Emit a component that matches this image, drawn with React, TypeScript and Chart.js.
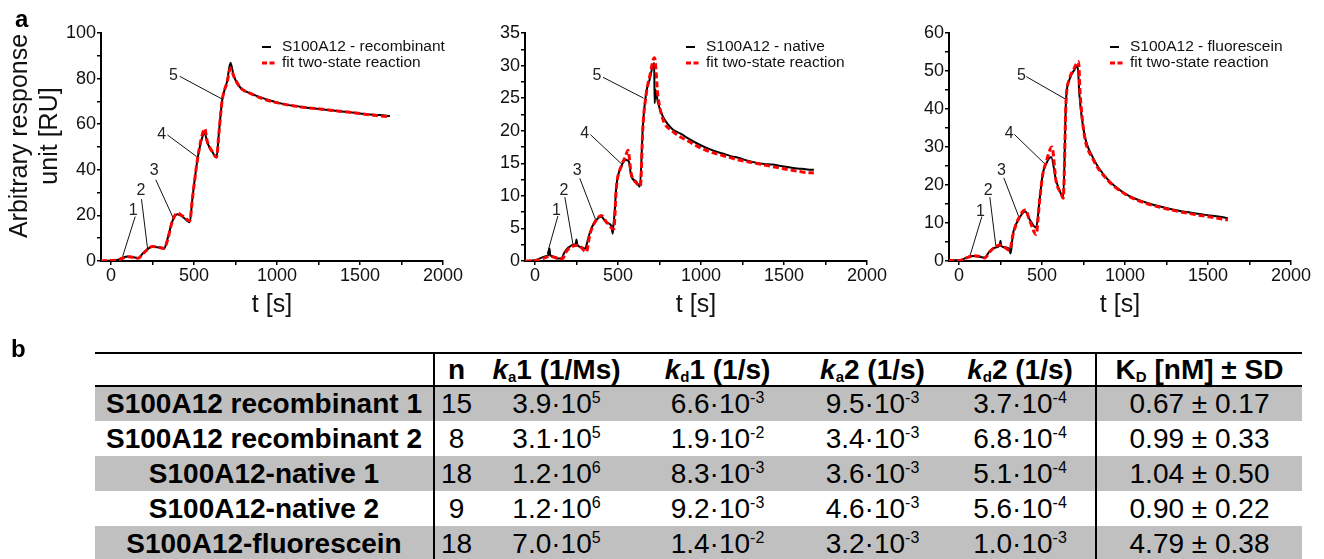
import React, { useEffect, useRef } from 'react';
import { Chart, registerables } from 'chart.js';

Chart.register(...registerables);

const FONT = '"Liberation Sans", Arial, Helvetica, sans-serif';
const RED = '#ff0000';

// ---------- shared axis ticks ----------
const timeTicks = [0, 250, 500, 750, 1000, 1250, 1500, 1750, 2000];
const timeLabels = ['0', '', '500', '', '1000', '', '1500', '', '2000'];

// ---------- Panel a: recombinant ----------
const tRecomb = [-60, 0, 40, 70, 100, 130, 165, 190, 220, 250, 280, 320, 340, 370, 400, 430, 475, 490, 520, 545, 565, 580, 610, 636, 650, 670, 700, 720, 740, 780, 840, 940, 1040, 1140, 1240, 1340, 1440, 1540, 1620, 1680];
const recombMeasured = [0, 0.2, 0.5, 1.4, 2.0, 1.8, 1.3, 3.2, 5.2, 6.2, 6.0, 5.4, 9.5, 17.5, 20.5, 19.5, 17.0, 27, 44, 53, 56, 52, 48, 45.5, 56, 70.5, 79, 87, 81, 76, 73.5, 70.8, 68.8, 67.7, 66.8, 66.0, 65.2, 64.4, 64.0, 63.6];
const recombFit = [0, 0.2, 0.4, 1.2, 1.9, 1.6, 1.2, 3.0, 5.0, 6.4, 6.1, 5.6, 9.0, 17.5, 21.0, 19.8, 17.6, 27, 44, 54, 58, 52.5, 48, 45.5, 56, 70.5, 78.5, 84.5, 81, 76, 73.5, 70.5, 68.8, 67.6, 66.8, 66.0, 65.2, 64.3, 63.6, 63.2];

// ---------- Panel a: native ----------
const tNativeMeasured = [-60, 0, 30, 60, 80, 88, 92, 100, 130, 160, 175, 190, 210, 230, 245, 250, 255, 280, 305, 310, 330, 360, 400, 430, 460, 468, 472, 480, 490, 520, 550, 565, 580, 610, 632, 650, 670, 690, 718, 721, 726, 740, 770, 800, 830, 880, 930, 980, 1030, 1080, 1130, 1180, 1230, 1280, 1330, 1380, 1430, 1480, 1530, 1580, 1630, 1660, 1680];
const nativeMeasured = [0, 0.1, 0.4, 0.7, 0.9, 1.9, 0.8, 0.8, 0.4, 0.4, 1.2, 1.8, 2.2, 2.5, 2.6, 3.3, 2.5, 2.1, 1.9, 2.4, 4.3, 6.0, 6.8, 5.9, 5.4, 4.2, 5.3, 7.5, 11.4, 14.5, 15.5, 15.3, 13.0, 12.2, 11.4, 20.7, 25.8, 27.8, 30.4, 24.2, 26.3, 24.4, 22.2, 21.0, 20.2, 19.5, 18.7, 18.0, 17.4, 16.9, 16.5, 16.1, 15.8, 15.4, 15.1, 14.9, 14.8, 14.6, 14.4, 14.2, 14.1, 14.0, 14.0];
const tNativeFit = [-60, 0, 40, 90, 130, 165, 190, 230, 260, 310, 330, 360, 400, 430, 475, 490, 520, 545, 560, 580, 610, 635, 650, 670, 690, 720, 740, 770, 830, 930, 1030, 1130, 1230, 1330, 1430, 1530, 1630, 1680];
const nativeFit = [0, 0.05, 0.3, 0.7, 0.5, 0.35, 1.5, 2.3, 2.4, 1.4, 4.0, 5.9, 7.0, 6.0, 4.9, 11.2, 14.6, 16.0, 17.0, 13.4, 12.0, 11.5, 20.5, 25.6, 28.2, 31.2, 25.5, 21.8, 19.9, 18.3, 17.0, 16.2, 15.5, 15.0, 14.5, 14.0, 13.6, 13.5];

// ---------- Panel a: fluorescein ----------
const tFluoMeasured = [-65, 5, 45, 85, 125, 155, 185, 215, 245, 250, 255, 275, 305, 310, 315, 325, 355, 400, 425, 465, 485, 505, 525, 555, 585, 615, 628, 645, 665, 695, 715, 725, 755, 805, 885, 1005, 1125, 1225, 1325, 1425, 1525, 1605, 1620];
const fluoMeasured = [0.2, 0.2, 0.9, 1.3, 1.1, 0.9, 2.6, 3.5, 4.1, 5.3, 4.0, 3.6, 3.1, 2.0, 3.0, 7.0, 10.6, 13.0, 11.0, 8.8, 15.9, 23.0, 25.6, 27.4, 21.2, 17.6, 16.6, 42.4, 47.7, 50.3, 51.4, 44.0, 33.5, 27.4, 22.0, 17.6, 15.4, 14.2, 13.2, 12.5, 11.9, 11.4, 11.2];
const tFluoFit = [-65, 5, 45, 85, 125, 155, 185, 215, 245, 275, 305, 325, 355, 400, 425, 465, 485, 505, 525, 560, 585, 615, 628, 645, 665, 695, 720, 730, 755, 805, 885, 1005, 1125, 1225, 1325, 1425, 1525, 1620];
const fluoFit = [0.2, 0.1, 0.8, 1.4, 1.2, 0.8, 2.4, 3.6, 4.2, 3.6, 2.8, 6.8, 10.8, 13.4, 10.8, 7.0, 15.5, 22.8, 26.0, 30.0, 21.0, 17.8, 16.5, 42.0, 47.8, 50.8, 52.5, 44.0, 33.2, 27.0, 21.8, 17.5, 15.2, 14.0, 13.0, 12.2, 11.5, 10.8];

// ---------- injection annotations (data coordinates) ----------
const injectionLabels = ['1', '2', '3', '4', '5'];
const recombLabelT = [134, 180, 260, 306, 376];
const recombLabelV = [22.1, 30.9, 39.7, 55.6, 81.3];
const recombFromT = [146, 184, 270, 340, 414];
const recombFromV = [19.5, 27.1, 35.6, 55.3, 81];
const recombToT = [70, 220, 376, 516, 670];
const recombToV = [1.9, 5.6, 18.7, 45.8, 71];

const nativeLabelT = [130, 174, 254, 300, 374];
const nativeLabelV = [7.7, 10.8, 13.9, 19.5, 28.4];
const nativeFromT = [138, 180, 270, 334, 410];
const nativeFromV = [6.9, 9.8, 12.7, 19.4, 28.2];
const nativeToT = [74, 230, 366, 530, 654];
const nativeToV = [1.1, 2.4, 6.3, 14.7, 25.0];

const fluoLabelT = [130, 176, 256, 302, 376];
const fluoLabelV = [13.1, 18.4, 23.7, 33.5, 48.7];
const fluoFromT = [138, 186, 270, 334, 406];
const fluoFromV = [11.7, 16.8, 21.9, 33.3, 48.5];
const fluoToT = [66, 222, 366, 516, 646];
const fluoToV = [1.3, 4.0, 11.0, 25.6, 42.5];

const fitLabel = 'fit two-state reaction';
const yTitleLines = ['Arbitrary response', 'unit [RU]'];
const xTitle = 't [s]';

// ---------- Panel b: table ----------
const tableHeader = ['', 'n', 'ka1 (1/Ms)', 'kd1 (1/s)', 'ka2 (1/s)', 'kd2 (1/s)', 'KD [nM] ± SD'];
const sampleNames = ['S100A12 recombinant 1', 'S100A12 recombinant 2', 'S100A12-native 1', 'S100A12-native 2', 'S100A12-fluorescein'];
const nValues = [15, 8, 18, 9, 18];
const ka1Values = [3.9e5, 3.1e5, 1.2e6, 1.2e6, 7.0e5];
const kd1Values = [6.6e-3, 1.9e-2, 8.3e-3, 9.2e-3, 1.4e-2];
const ka2Values = [9.5e-3, 3.4e-3, 3.6e-3, 4.6e-3, 3.2e-3];
const kd2Values = [3.7e-4, 6.8e-4, 5.1e-4, 5.6e-4, 1.0e-3];
const kdMean = [0.67, 0.99, 1.04, 0.90, 4.79];
const kdSd = [0.17, 0.33, 0.50, 0.22, 0.38];

type PanelProps = {
  left: number;
  width: number;
  yWidth: number;
  yMax: number;
  yMinor: number;
  yMajor: number;
  tM: number[];
  vM: number[];
  tF: number[];
  vF: number[];
  label: string;
  labelT: number[];
  labelV: number[];
  fromT: number[];
  fromV: number[];
  toT: number[];
  toV: number[];
  yTitle?: string[];
};

const HEIGHT = 330;

function Panel(p: PanelProps) {
  const ref = useRef<HTMLCanvasElement>(null);
  useEffect(() => {
    const canvas = ref.current;
    if (!canvas) return;
    const decor = {
      id: 'decor',
      beforeDatasetsDraw(chart: any) {
        const { ctx, scales } = chart;
        const xs = scales.x;
        const ys = scales.y;
        ctx.save();
        ctx.strokeStyle = '#111';
        ctx.lineWidth = 1;
        for (let i = 0; i < p.labelT.length; i++) {
          ctx.beginPath();
          ctx.moveTo(xs.getPixelForValue(p.fromT[i]), ys.getPixelForValue(p.fromV[i]));
          ctx.lineTo(xs.getPixelForValue(p.toT[i]), ys.getPixelForValue(p.toV[i]));
          ctx.stroke();
        }
        ctx.restore();
      },
      afterDraw(chart: any) {
        const { ctx, scales, chartArea: a } = chart;
        const xs = scales.x;
        const ys = scales.y;
        ctx.save();
        ctx.fillStyle = '#222';
        ctx.font = `16px ${FONT}`;
        ctx.textAlign = 'center';
        ctx.textBaseline = 'middle';
        for (let i = 0; i < p.labelT.length; i++) {
          ctx.fillText(injectionLabels[i], xs.getPixelForValue(p.labelT[i]), ys.getPixelForValue(p.labelV[i]));
        }
        // legend
        const ds = chart.data.datasets;
        const lx = a.left + 161;
        const y1 = a.top + 14;
        const y2 = a.top + 30;
        ctx.setLineDash([]);
        ctx.lineWidth = 2;
        ctx.strokeStyle = '#000';
        ctx.beginPath();
        ctx.moveTo(lx, y1);
        ctx.lineTo(lx + 9, y1);
        ctx.stroke();
        ctx.lineWidth = 3;
        ctx.strokeStyle = RED;
        ctx.setLineDash([5, 2.5]);
        ctx.beginPath();
        ctx.moveTo(lx, y2);
        ctx.lineTo(lx + 13, y2);
        ctx.stroke();
        ctx.setLineDash([]);
        ctx.fillStyle = '#111';
        ctx.font = `15.5px ${FONT}`;
        ctx.textAlign = 'left';
        ctx.fillText(ds[1].label, lx + 20, y1);
        ctx.fillText(ds[0].label, lx + 20, y2);
        // y title
        if (p.yTitle) {
          ctx.save();
          ctx.translate(a.left - 81, (a.top + a.bottom) / 2 - 11);
          ctx.rotate(-Math.PI / 2);
          ctx.textAlign = 'center';
          ctx.textBaseline = 'middle';
          ctx.font = `25px ${FONT}`;
          ctx.fillStyle = '#111';
          p.yTitle.forEach((line, i) => ctx.fillText(line, 0, i * 30));
          ctx.restore();
        }
        ctx.restore();
      },
    };
    const tickFont = { family: FONT, size: 18 };
    const mkGrid = () => ({ display: true, drawOnChartArea: false, drawTicks: true, tickLength: 4, color: '#000', lineWidth: 1.5 });
    const mkBorder = () => ({ display: true, color: '#000', width: 2 });
    const chart = new Chart(canvas, {
      type: 'line',
      data: {
        datasets: [
          {
            label: fitLabel,
            data: p.tF.map((t, i) => ({ x: t, y: p.vF[i] })),
            borderColor: RED,
            borderWidth: 3,
            borderDash: [6, 3],
            pointRadius: 0,
            cubicInterpolationMode: 'monotone',
            order: 0,
          },
          {
            label: p.label,
            data: p.tM.map((t, i) => ({ x: t, y: p.vM[i] })),
            borderColor: '#000',
            borderWidth: 2,
            pointRadius: 0,
            cubicInterpolationMode: 'monotone',
            order: 1,
          },
        ],
      },
      options: {
        responsive: false,
        animation: false,
        devicePixelRatio: 1,
        layout: { padding: { left: 0, right: 25, top: 33, bottom: 0 } },
        plugins: { legend: { display: false }, tooltip: { enabled: false }, title: { display: false } },
        scales: {
          x: {
            type: 'linear',
            min: -60,
            max: 2000,
            afterBuildTicks: (s: any) => {
              s.ticks = timeTicks.map((v) => ({ value: v }));
            },
            afterFit: (s: any) => {
              s.height = HEIGHT - 261;
              s.paddingLeft = 0;
              s.paddingRight = 0;
            },
            ticks: {
              autoSkip: false,
              maxRotation: 0,
              minRotation: 0,
              font: tickFont,
              color: '#111',
              padding: 0,
              callback: (_v: any, i: number) => timeLabels[i],
            },
            grid: mkGrid(),
            border: mkBorder(),
            title: { display: true, text: xTitle, font: { family: FONT, size: 25 }, color: '#111', padding: { top: 0, bottom: 10 } },
          },
          y: {
            type: 'linear',
            min: 0,
            max: p.yMax,
            afterFit: (s: any) => {
              s.width = p.yWidth;
              s.paddingTop = 0;
              s.paddingBottom = 0;
            },
            ticks: {
              stepSize: p.yMinor,
              autoSkip: false,
              font: tickFont,
              color: '#111',
              padding: 1,
              callback: (v: any) => {
                const r = Number(v) / p.yMajor;
                return Math.abs(r - Math.round(r)) < 1e-6 ? String(v) : '';
              },
            },
            grid: mkGrid(),
            border: mkBorder(),
          },
        },
      },
      plugins: [decor],
    } as any);
    return () => chart.destroy();
  }, []);
  return (
    <canvas
      ref={ref}
      width={p.width}
      height={HEIGHT}
      style={{ position: 'absolute', left: p.left, top: 0, width: p.width, height: HEIGHT }}
    />
  );
}

const supStyle: React.CSSProperties = { fontSize: 16, lineHeight: 0, verticalAlign: 'baseline', position: 'relative', top: -10 };
const subStyle: React.CSSProperties = { fontSize: 15, lineHeight: 0, verticalAlign: 'baseline', position: 'relative', top: 3 };

function Sci({ v }: { v: number }) {
  const [m, e] = v.toExponential(1).split('e');
  return (
    <>
      {m}·10
      <sup style={supStyle}>{String(Number(e))}</sup>
    </>
  );
}

function headerContent(i: number) {
  const h = tableHeader[i];
  if (h.startsWith('ka') || h.startsWith('kd')) {
    return (
      <>
        <i>k</i>
        <sub style={subStyle}>{h[1]}</sub>
        {h.slice(2)}
      </>
    );
  }
  if (h.startsWith('KD')) {
    return (
      <>
        K<sub style={subStyle}>D</sub>
        {h.slice(2)}
      </>
    );
  }
  return h;
}

export default function App() {
  const colW = [339, 44, 157, 165, 145, 151, 206];
  const cellBase: React.CSSProperties = {
    padding: 0,
    height: 33,
    textAlign: 'center',
    verticalAlign: 'middle',
    whiteSpace: 'nowrap',
    overflow: 'visible',
    lineHeight: '30px',
    boxSizing: 'border-box',
  };
  const sideBorder = (c: number): React.CSSProperties =>
    c === 0 || c === 5 ? { borderRight: '2px solid #000' } : {};
  return (
    <div style={{ position: 'absolute', left: 0, top: 0, width: 1324, height: 559, background: '#fff', overflow: 'hidden', fontFamily: FONT, color: '#000' }}>
      <Panel left={0} width={468} yWidth={101} yMax={100} yMinor={10} yMajor={20}
        tM={tRecomb} vM={recombMeasured} tF={tRecomb} vF={recombFit} label="S100A12 - recombinant"
        labelT={recombLabelT} labelV={recombLabelV} fromT={recombFromT} fromV={recombFromV} toT={recombToT} toV={recombToV}
        yTitle={yTitleLines} />
      <Panel left={475} width={417} yWidth={50} yMax={35} yMinor={2.5} yMajor={5}
        tM={tNativeMeasured} vM={nativeMeasured} tF={tNativeFit} vF={nativeFit} label="S100A12 - native"
        labelT={nativeLabelT} labelV={nativeLabelV} fromT={nativeFromT} fromV={nativeFromV} toT={nativeToT} toV={nativeToV} />
      <Panel left={899} width={417} yWidth={50} yMax={60} yMinor={5} yMajor={10}
        tM={tFluoMeasured} vM={fluoMeasured} tF={tFluoFit} vF={fluoFit} label="S100A12 - fluorescein"
        labelT={fluoLabelT} labelV={fluoLabelV} fromT={fluoFromT} fromV={fluoFromV} toT={fluoToT} toV={fluoToV} />

      <div style={{ position: 'absolute', left: 15, top: 7, fontSize: 24, fontWeight: 700, lineHeight: 1 }}>a</div>
      <div style={{ position: 'absolute', left: 11, top: 337, fontSize: 24, fontWeight: 700, lineHeight: 1 }}>b</div>

      <table style={{ position: 'absolute', left: 95, top: 352, width: 1207, borderCollapse: 'collapse', tableLayout: 'fixed' }}>
        <colgroup>
          {colW.map((w, i) => (
            <col key={i} style={{ width: w }} />
          ))}
        </colgroup>
        <tbody>
          <tr>
            {tableHeader.map((_, c) => (
              <td key={c} style={{ ...cellBase, ...sideBorder(c), borderTop: '2px solid #000', borderBottom: '2px solid #000', fontWeight: 700, fontSize: 28 }}>
                {headerContent(c)}
              </td>
            ))}
          </tr>
          {sampleNames.map((name, r) => {
            const bg = r % 2 === 0 ? '#c0c0c0' : '#ffffff';
            const cells = [
              <b>{name}</b>,
              String(nValues[r]),
              <Sci v={ka1Values[r]} />,
              <Sci v={kd1Values[r]} />,
              <Sci v={ka2Values[r]} />,
              <Sci v={kd2Values[r]} />,
              `${kdMean[r].toFixed(2)} ± ${kdSd[r].toFixed(2)}`,
            ];
            return (
              <tr key={r} style={{ background: bg }}>
                {cells.map((content, c) => (
                  <td key={c} style={{ ...cellBase, ...sideBorder(c), height: 35, fontSize: 28 }}>
                    {content}
                  </td>
                ))}
              </tr>
            );
          })}
        </tbody>
      </table>
    </div>
  );
}
